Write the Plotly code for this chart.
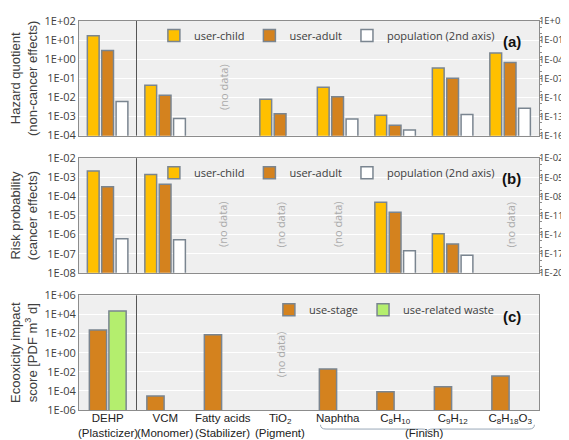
import plotly.graph_objects as go

categories = ["DEHP", "VCM", "Fatty acids", "TiO<sub>2</sub>", "Naphtha",
              "C<sub>8</sub>H<sub>10</sub>", "C<sub>9</sub>H<sub>12</sub>",
              "C<sub>8</sub>H<sub>18</sub>O<sub>3</sub>"]
roles = ["(Plasticizer)", "(Monomer)", "(Stabilizer)", "(Pigment)"]
finish_label = "(Finish)"

# (a) hazard quotient
hq_child = [17, 0.043, None, 0.008, 0.034, 0.00115, 0.35, 2.1]
hq_adult = [2.9, 0.013, None, 0.0014, 0.011, 0.00035, 0.10, 0.67]
hq_pop = [2.2e-11, 5e-14, None, None, 4e-14, 8e-16, 2e-13, 2e-12]
# (b) risk probability
rp_child = [2.1e-3, 1.4e-3, None, None, None, 4.9e-5, 1.1e-6, None]
rp_adult = [3.2e-4, 4.3e-4, None, None, None, 1.5e-5, 3.2e-7, None]
rp_pop = [2.2e-15, 1.6e-15, None, None, None, 3e-17, 6e-18, None]
# (c) ecotoxicity
eco_use = [2.4e2, 3e-5, 75, None, 0.019, 8.3e-5, 2.7e-4, 3.6e-3]
eco_waste = [2.3e4, None, None, None, None, None, None, None]

ticks_a_left = [1e-4, 1e-3, 1e-2, 1e-1, 1, 10, 100]
labels_a_left = ["1E-04", "1E-03", "1E-02", "1E-01", "1E+00", "1E+01", "1E+02"]
ticks_a_right = [1e-16, 1e-13, 1e-10, 1e-7, 1e-4, 1e-1, 100]
labels_a_right = ["1E-16", "1E-13", "1E-10", "1E-07", "1E-04", "1E-01", "1E+02"]
ticks_b_left = [1e-8, 1e-7, 1e-6, 1e-5, 1e-4, 1e-3, 1e-2]
labels_b_left = ["1E-08", "1E-07", "1E-06", "1E-05", "1E-04", "1E-03", "1E-02"]
ticks_b_right = [1e-20, 1e-17, 1e-14, 1e-11, 1e-8, 1e-5, 1e-2]
labels_b_right = ["1E-20", "1E-17", "1E-14", "1E-11", "1E-08", "1E-05", "1E-02"]
ticks_c = [1e-6, 1e-4, 1e-2, 1, 1e2, 1e4, 1e6]
labels_c = ["1E-06", "1E-04", "1E-02", "1E+00", "1E+02", "1E+04", "1E+06"]

C_CHILD = "#FFC000"
C_ADULT = "#D4821E"
C_POP = "#FFFFFF"
C_WASTE = "#B4EE6E"
OUTLINE = "#7a8590"
BG = "#EFEFEF"
AXC = "#8c8c8c"
TXT = "#404040"

fig = go.Figure()

def bar(name, y, color, xa, ya, offset, width, legend, showlegend=True):
    fig.add_trace(go.Bar(
        x=categories, y=y, name=name, xaxis=xa, yaxis=ya,
        offset=offset, width=width, legend=legend, showlegend=showlegend,
        marker=dict(color=color, line=dict(color=OUTLINE, width=1.5)),
    ))

W3 = 0.205
bar("user-child", hq_child, C_CHILD, "x", "y", -0.355, W3, "legend")
bar("user-adult", hq_adult, C_ADULT, "x", "y", -0.105, W3, "legend")
bar("population (2nd axis)", hq_pop, C_POP, "x", "y2", 0.145, W3, "legend")

bar("user-child", rp_child, C_CHILD, "x2", "y3", -0.355, W3, "legend2")
bar("user-adult", rp_adult, C_ADULT, "x2", "y3", -0.105, W3, "legend2")
bar("population (2nd axis)", rp_pop, C_POP, "x2", "y4", 0.145, W3, "legend2")

bar("use-stage", eco_use, C_ADULT, "x3", "y5", -0.32, 0.30, "legend3")
bar("use-related waste", eco_waste, C_WASTE, "x3", "y5", 0.02, 0.30, "legend3")

dom_a = [0.7053, 1.0]
dom_b = [0.3526, 0.6474]
dom_c = [0.0, 0.2947]

tickfont = dict(family="Open Sans", size=11, color=TXT)
rtickfont = dict(family="Open Sans", size=9.5, color=TXT)
titlefont = dict(family="Liberation Sans", size=13, color=TXT)
catfont = dict(family="Liberation Sans", size=11.5, color="#222222")

def xax(anchor, show):
    return dict(
        anchor=anchor, domain=[0, 1], type="category",
        categoryorder="array", categoryarray=categories,
        range=[-0.5, 7.5], showgrid=False, showline=True, mirror=True,
        linecolor=AXC, linewidth=1, ticks="", showticklabels=show,
        tickfont=catfont, ticklabelstandoff=-3,
        zeroline=False,
    )

def yleft(anchor, dom, rng, tv, tt, title):
    return dict(
        anchor=anchor, domain=dom, type="log", range=rng,
        tickvals=tv, ticktext=tt, tickfont=tickfont, ticks="",
        showgrid=True, gridcolor="#FFFFFF", gridwidth=1,
        showline=True, mirror=True, linecolor=AXC, linewidth=1,
        title=dict(text=title, font=titlefont, standoff=6),
        zeroline=False,
    )

def yright(anchor, overlay, rng, tv, tt, minor_vals):
    return dict(
        anchor=anchor, overlaying=overlay, side="right", type="log", range=rng,
        tickvals=tv, ticktext=tt, tickfont=rtickfont,
        ticks="", ticklabelstandoff=-3,
        minor=dict(tickvals=minor_vals, ticks="outside", ticklen=2, tickcolor=AXC),
        showgrid=False, showline=True, linecolor=AXC, linewidth=1, zeroline=False,
    )

minor_a = [10.0 ** e for e in range(-16, 3)]
minor_b = [10.0 ** e for e in range(-20, -1)]

fig.update_layout(
    width=569, height=440,
    margin=dict(l=70, r=38, t=5, b=38),
    paper_bgcolor="white", plot_bgcolor=BG,
    barmode="overlay",
    xaxis=xax("y", False),
    xaxis2=xax("y3", False),
    xaxis3=xax("y5", True),
    yaxis=yleft("x", dom_a, [-4, 2], ticks_a_left, labels_a_left,
                "Hazard quotient<br>(non-cancer effects)"),
    yaxis2=yright("x", "y", [-16, 2], ticks_a_right, labels_a_right, minor_a),
    yaxis3=yleft("x2", dom_b, [-8, -2], ticks_b_left, labels_b_left,
                 "Risk probability<br>(cancer effects)"),
    yaxis4=yright("x2", "y3", [-20, -2], ticks_b_right, labels_b_right, minor_b),
    yaxis5=yleft("x3", dom_c, [-6, 6], ticks_c, labels_c,
                 "Ecooxicity impact<br>score [PDF m<sup>3</sup> d]"),
    font=dict(family="Open Sans", color=TXT),
    showlegend=True,
)

legfont = dict(family="Open Sans", size=11, color=TXT)
common_leg = dict(orientation="h", xanchor="right", yanchor="top",
                  bgcolor="rgba(0,0,0,0)", font=legfont, itemwidth=30,
                  tracegroupgap=0, traceorder="normal")
fig.update_layout(
    legend=dict(x=0.915, y=1.0, **common_leg),
    legend2=dict(x=0.915, y=dom_b[1], **common_leg),
    legend3=dict(x=0.915, y=dom_c[1], **common_leg),
)

# separator lines between DEHP and VCM
for xa, ya in [("x", "y"), ("x2", "y3"), ("x3", "y5")]:
    fig.add_shape(type="line", xref=xa, yref=ya + " domain", x0=0.5, x1=0.5,
                  y0=0, y1=1, line=dict(color="#555555", width=1))

# panel labels
for ya, lab in [("y", "(a)"), ("y3", "(b)"), ("y5", "(c)")]:
    fig.add_annotation(text="<b>" + lab + "</b>", xref="paper", yref=ya + " domain",
                       x=0.965, y=0.91, showarrow=False,
                       font=dict(family="Liberation Sans", size=15, color="#111111"))

# no data labels
nd_font = dict(family="Open Sans", size=11, color="#aaaaaa")
for xa, ya, cat, yy in [("x", "y", categories[2], 0.205),
                        ("x2", "y3", categories[2], 0.205),
                        ("x2", "y3", categories[3], 0.205),
                        ("x2", "y3", categories[4], 0.205),
                        ("x2", "y3", categories[7], 0.205),
                        ("x3", "y5", categories[3], 0.27)]:
    fig.add_annotation(text="(no data)", xref=xa, yref=ya + " domain", x=cat, y=yy,
                       textangle=-90, showarrow=False, font=nd_font)

# second-line labels
for i, r in enumerate(roles):
    fig.add_annotation(text=r, xref="x3", yref="paper", x=i, y=-0.079,
                       showarrow=False, font=catfont)
fig.add_annotation(text=finish_label, xref="x3", yref="paper", x=5.5, y=-0.079,
                   showarrow=False, font=catfont)

# curly brace under Finish group
x0, x1 = 0.525, 0.990
xm = (x0 + x1) / 2
yt, ymid, yb = -0.038, -0.049, -0.056
d = 0.012
path = (f"M{x0},{yt} Q{x0},{ymid} {x0+d},{ymid} L{xm-d},{ymid} "
        f"Q{xm},{ymid} {xm},{yb} Q{xm},{ymid} {xm+d},{ymid} "
        f"L{x1-d},{ymid} Q{x1},{ymid} {x1},{yt}")
fig.add_shape(type="path", xref="paper", yref="paper", path=path,
              line=dict(color="#9aa8b8", width=1))

fig.write_html("out.html")
